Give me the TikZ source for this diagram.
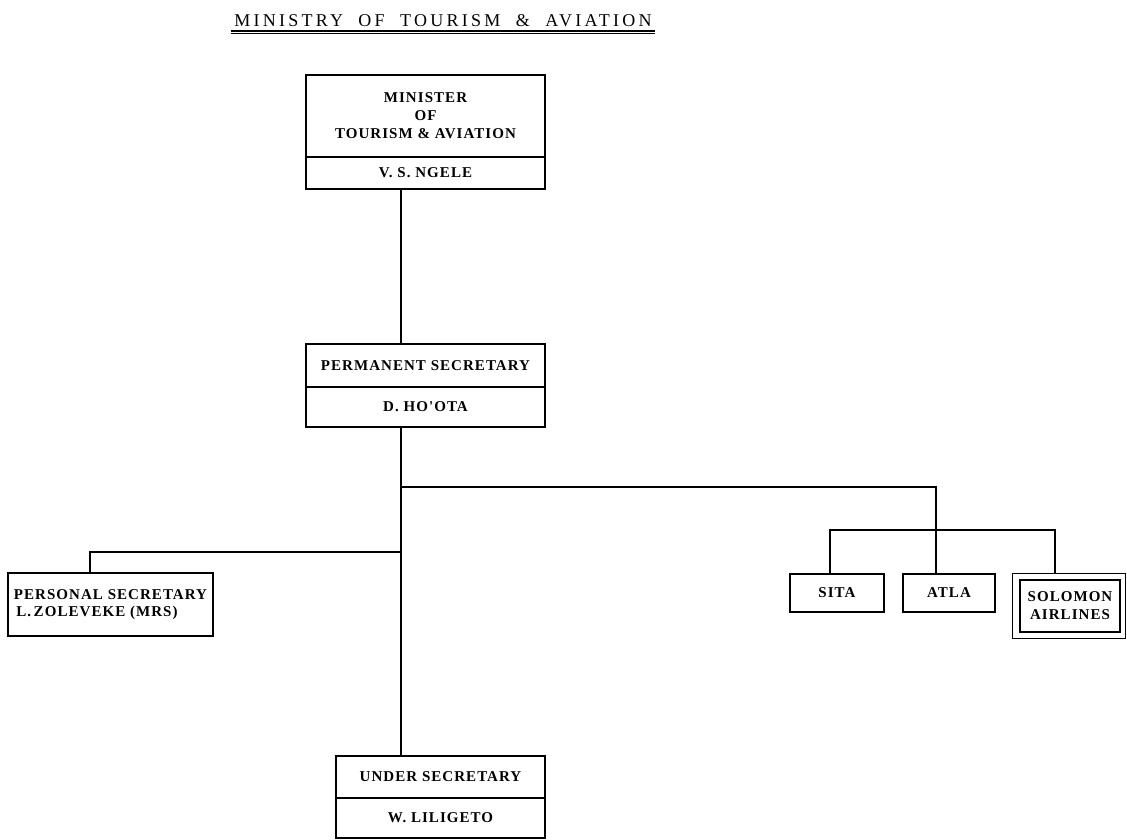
\documentclass[tikz,border=0pt]{standalone}
\usepackage{fontspec}
\setmainfont{Liberation Serif}
\newfontfamily\titlefont{Liberation Serif}[LetterSpace=18,WordSpace=2]
\newfontfamily\boxfont{Liberation Serif}[LetterSpace=7]
\begin{document}
\begin{tikzpicture}[x=1pt,y=-1pt,
  box/.style={draw,line width=1.4pt,inner sep=0pt,align=center,
    font=\boxfont\bfseries\fontsize{15}{18}\selectfont},
  conn/.style={line width=1.5pt}]
\useasboundingbox (0,0) rectangle (1127,840);
% title
\node[font=\titlefont\fontsize{18}{20}\selectfont,anchor=base] (title) at (443,27) {MINISTRY OF TOURISM \& AVIATION};
\draw[line width=1.1pt] (title.base west) ++(0,4) coordinate (ulA) -- (ulA -| title.base east);
\draw[line width=0.7pt] (title.base west) ++(0,6.5) coordinate (ulB) -- (ulB -| title.base east);
% minister
\node[box,minimum width=239pt,minimum height=82pt] (minTop) at (425.5,116) {MINISTER\\OF\\TOURISM \& AVIATION};
\node[box,minimum width=239pt,minimum height=32pt] (minBot) at (425.5,173) {V. S. NGELE};
% permanent secretary
\node[box,minimum width=239pt,minimum height=43pt] (psTop) at (425.5,365.5) {PERMANENT SECRETARY};
\node[box,minimum width=239pt,minimum height=40pt] (psBot) at (425.5,407) {D. HO'OTA};
% under secretary
\node[box,minimum width=209pt,minimum height=42pt] (usTop) at (440.5,777) {UNDER SECRETARY};
\node[box,minimum width=209pt,minimum height=40pt] (usBot) at (440.5,818) {W. LILIGETO};
% personal secretary
\node[box,align=left,minimum width=205pt,minimum height=63pt] (pers) at (110.5,604.5) {PERSONAL SECRETARY\\[-1pt]\,L.\,ZOLEVEKE (MRS)};
% agencies
\node[box,minimum width=94pt,minimum height=38pt] (sita) at (837,593) {SITA};
\node[box,minimum width=92pt,minimum height=38pt] (atla) at (949,593) {ATLA};
\node[draw,line width=0.8pt,minimum width=113pt,minimum height=65pt,inner sep=0pt] (solOut) at (1068.5,605.5) {};
\node[box,minimum width=100pt,minimum height=52pt] (sol) at (1070,606) {SOLOMON\\AIRLINES};
% connector coordinates
\coordinate (t) at (401,0);
\coordinate (hub) at (401,487);
\coordinate (busR) at (936,530);
\coordinate (persJ) at (401,552);
\coordinate (xs) at (830,0);
\coordinate (xo) at (1055,0);
\coordinate (xp) at (90,0);
% connectors
\draw[conn] (minBot.south -| t) -- (psTop.north -| t);
\draw[conn] (psBot.south -| t) -- (usTop.north -| t);
\draw[conn] (hub) -| (busR);
\draw[conn] (sita.north -| xs) |- (busR);
\draw[conn] (busR) -| (solOut.north -| xo);
\draw[conn] (busR) -- (atla.north -| busR);
\draw[conn] (pers.north -| xp) |- (persJ);
\end{tikzpicture}
\end{document}
